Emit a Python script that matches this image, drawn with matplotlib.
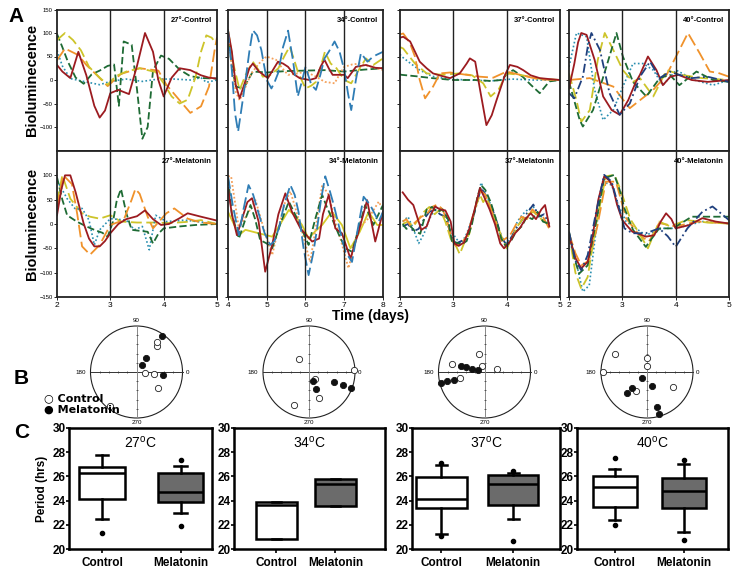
import numpy as np
import matplotlib.pyplot as plt
from matplotlib.patches import Circle

plt.rcParams['font.family'] = ['Liberation Sans', 'DejaVu Sans']

# ---------------- A: bioluminescence traces (days, a.u.) ----------------
# 27 C control
c27_red_x = [2.0, 2.1, 2.25, 2.4, 2.55, 2.7, 2.8, 2.9, 3.0, 3.15, 3.35, 3.5, 3.65, 3.8, 3.9, 4.0, 4.15, 4.3, 4.5, 4.7, 4.85, 5.0]
c27_red_y = [32, 18, 4, 60, 10, -55, -80, -65, -28, -21, -30, 30, 100, 60, 0, -35, 5, 25, 21, 10, 5, 3]
c27_green_x = [2.0, 2.1, 2.2, 2.35, 2.5, 2.65, 2.8, 2.95, 3.07, 3.16, 3.25, 3.4, 3.5, 3.6, 3.7, 3.8, 3.95, 4.1, 4.3, 4.5, 4.75, 5.0]
c27_green_y = [98, 70, 40, 5, -8, 12, 20, 30, 33, -55, 82, 75, -20, -125, -100, 20, 52, 45, 22, 8, 4, 3]
c27_yellow_x = [2.0, 2.15, 2.3, 2.45, 2.6, 2.8, 2.95, 3.1, 3.3, 3.55, 3.85, 4.0, 4.15, 4.3, 4.45, 4.6, 4.7, 4.8, 4.9, 5.0]
c27_yellow_y = [85, 100, 85, 63, 28, 5, -10, 8, 18, 25, 17, -7, -35, -50, -42, 7, 60, 95, 90, 75]
c27_orange_x = [2.0, 2.15, 2.4, 2.55, 2.75, 2.95, 3.2, 3.55, 3.9, 4.05, 4.2, 4.35, 4.5, 4.7, 4.85, 4.95, 5.0]
c27_orange_y = [42, 67, 53, 32, 10, -13, 13, 25, 20, -10, -30, -50, -70, -56, -14, 60, 91]
c27_teal_x = [2.0, 2.1, 2.25, 2.5, 2.8, 3.0, 3.3, 3.6, 3.9, 4.2, 4.5, 4.7, 4.8, 5.0]
c27_teal_y = [63, 30, 3, -3, -10, -3, 2, -3, 2, 2, 0, 5, -5, 0]

# 34 C control
c34_blue_x = [4.0, 4.1, 4.18, 4.26, 4.35, 4.43, 4.55, 4.64, 4.75, 4.86, 5.0, 5.12, 5.2, 5.29, 5.42, 5.55, 5.68, 5.8, 5.9, 6.0, 6.15, 6.27, 6.38, 6.49, 6.6, 6.75, 6.88, 7.0, 7.1, 7.18, 7.3, 7.43, 7.6, 7.72, 7.82, 8.0]
c34_blue_y = [106, 20, -70, -110, -60, -14, 60, 106, 95, 64, 0, -18, -5, 14, 70, 105, 40, -35, -5, 28, -10, -21, 10, 46, 60, 82, 60, 21, -30, -64, 0, 57, 39, 48, 53, 60]
c34_red_x = [4.0, 4.1, 4.2, 4.3, 4.43, 4.55, 4.64, 4.8, 5.03, 5.15, 5.29, 5.42, 5.55, 5.7, 5.85, 6.1, 6.27, 6.4, 6.49, 6.6, 6.7, 7.0, 7.09, 7.3, 7.56, 7.8, 8.0]
c34_red_y = [106, 60, -10, -39, -7, 25, 35, 18, 4, 20, 39, 35, 28, 12, 4, 0, 4, 30, 43, 25, 11, 11, 4, 28, 32, 26, 25]
c34_yellow_x = [4.0, 4.15, 4.3, 4.45, 4.64, 4.8, 4.9, 5.1, 5.3, 5.45, 5.59, 5.7, 5.8, 6.0, 6.15, 6.27, 6.4, 6.5, 6.65, 6.8, 7.0, 7.18, 7.35, 7.56, 7.75, 8.0]
c34_yellow_y = [106, 30, -21, 10, 39, 20, 7, 11, 25, 50, 71, 45, 18, -18, -12, -4, 30, 60, 35, 25, 0, -7, 18, 46, 32, 46]
c34_dotor_x = [4.0, 4.1, 4.2, 4.3, 4.45, 4.6, 4.8, 4.99, 5.24, 5.4, 5.55, 5.8, 6.0, 6.25, 6.5, 6.75, 6.9, 7.0, 7.2, 7.4, 7.7, 8.0]
c34_dotor_y = [85, 30, -25, -43, -15, 14, 35, 50, 43, 25, 11, 14, 18, 8, -4, -7, 15, 28, 33, 35, 28, 21]
c34_green_x = [4.0, 4.1, 4.2, 4.4, 4.64, 5.0, 5.5, 6.0, 6.5, 7.0, 7.5, 8.0]
c34_green_y = [99, 30, -14, -18, 18, 16, 19, 20, 21, 18, 22, 25]

# 37 C control
c37_red_x = [2.0, 2.06, 2.19, 2.37, 2.5, 2.62, 2.8, 2.94, 3.12, 3.25, 3.31, 3.41, 3.5, 3.62, 3.72, 3.81, 3.97, 4.06, 4.2, 4.31, 4.45, 4.62, 4.8, 5.0]
c37_red_y = [90, 92, 82, 39, 25, 14, 8, 4, 14, 35, 46, 39, -20, -96, -75, -43, 11, 32, 28, 21, 10, 4, 2, 0]
c37_orange_x = [2.0, 2.06, 2.18, 2.28, 2.37, 2.47, 2.62, 2.75, 2.94, 3.25, 3.5, 3.75, 4.0, 4.25, 4.62, 5.0]
c37_orange_y = [97, 99, 80, 50, 0, -39, -14, 14, 16, 11, 7, 5, 18, 11, 1, 0]
c37_yellow_x = [2.0, 2.06, 2.28, 2.5, 2.8, 3.1, 3.35, 3.56, 3.7, 3.85, 4.0, 4.25, 4.6, 5.0]
c37_yellow_y = [70, 67, 35, 14, 11, 14, 10, -7, -35, -20, 14, 11, 3, 0]
c37_teal_x = [2.0, 2.03, 2.2, 2.37, 2.6, 2.9, 3.3, 3.7, 4.1, 4.5, 5.0]
c37_teal_y = [55, 50, 35, 21, 8, 2, 0, -2, 2, 0, 0]
c37_green_x = [2.0, 2.03, 2.3, 2.6, 3.0, 3.4, 3.7, 3.9, 4.0, 4.12, 4.3, 4.45, 4.62, 4.8, 5.0]
c37_green_y = [12, 11, 8, 4, 0, 0, -2, 0, 12, 21, 7, -10, -28, -3, 0]

# 40 C control
c40_red_x = [2.0, 2.1, 2.17, 2.23, 2.33, 2.48, 2.64, 2.8, 2.95, 3.11, 3.25, 3.33, 3.48, 3.64, 3.76, 3.9, 4.05, 4.3, 4.6, 5.0]
c40_red_y = [-18, 35, 80, 100, 96, 43, -35, -64, -74, -43, -5, 11, 50, 21, -11, 7, 11, 0, -4, 0]
c40_navy_x = [2.0, 2.1, 2.26, 2.35, 2.42, 2.58, 2.76, 2.95, 3.14, 3.33, 3.52, 3.7, 3.89, 4.07, 4.3, 4.6, 5.0]
c40_navy_y = [-28, -39, 7, 70, 100, 64, -28, -74, -50, 7, 39, 4, 18, 11, 4, 7, -4]
c40_teal_x = [2.0, 2.14, 2.33, 2.48, 2.64, 2.83, 3.01, 3.2, 3.39, 3.58, 3.76, 4.01, 4.35, 4.7, 5.0]
c40_teal_y = [28, 100, 92, -21, -85, -64, -14, 35, 35, 21, -11, 21, 0, -11, 0]
c40_yellow_x = [2.0, 2.14, 2.23, 2.39, 2.54, 2.67, 2.83, 3.01, 3.2, 3.33, 3.58, 3.83, 4.1, 4.5, 5.0]
c40_yellow_y = [14, -43, -89, -64, 43, 100, 64, 21, -4, 4, -35, 21, 11, 4, 0]
c40_green_x = [2.0, 2.2, 2.26, 2.45, 2.7, 2.89, 3.01, 3.2, 3.45, 3.7, 3.89, 4.07, 4.39, 4.7, 5.0]
c40_green_y = [-4, -85, -99, -64, 28, 100, 50, -4, -35, 4, 11, -11, 18, 0, -4]
c40_orange_x = [2.0, 2.39, 2.83, 3.0, 3.14, 3.33, 3.58, 3.83, 4.07, 4.23, 4.45, 4.64, 4.8, 5.0]
c40_orange_y = [0, 4, -14, -40, -60, -43, -21, 11, 64, 100, 57, 18, 15, 7]

# 27 C melatonin
m27_red_x = [2.0, 2.08, 2.15, 2.25, 2.35, 2.5, 2.6, 2.7, 2.8, 2.9, 3.0, 3.15, 3.3, 3.5, 3.65, 3.8, 3.95, 4.1, 4.3, 4.45, 4.7, 5.0]
m27_red_y = [18, 70, 100, 100, 65, 1, -30, -46, -46, -35, -19, 0, 10, 16, 28, 10, -2, 0, 12, 22, 15, 7]
m27_orange_x = [2.0, 2.12, 2.28, 2.38, 2.47, 2.62, 2.8, 3.0, 3.25, 3.4, 3.47, 3.55, 3.7, 3.8, 4.05, 4.2, 4.45, 4.7, 5.0]
m27_orange_y = [35, 100, 82, 20, -46, -63, -43, -2, 8, 50, 72, 62, 15, -9, 22, 32, 11, 3, 0]
m27_yellow_x = [2.0, 2.1, 2.25, 2.47, 2.62, 2.8, 3.0, 3.2, 3.5, 3.8, 4.1, 4.4, 4.7, 5.0]
m27_yellow_y = [45, 100, 52, 22, 15, 11, 18, 5, 3, 3, 2, 4, 8, 0]
m27_green_x = [2.0, 2.1, 2.19, 2.37, 2.55, 2.7, 2.85, 2.95, 3.05, 3.12, 3.2, 3.3, 3.4, 3.55, 3.7, 3.8, 3.9, 4.0, 4.3, 4.6, 5.0]
m27_green_y = [96, 50, 18, 5, -5, -12, -18, -26, 5, 48, 72, 22, -12, -14, -16, -40, -20, -9, -5, -2, 0]
m27_teal_x = [2.0, 2.1, 2.19, 2.35, 2.47, 2.6, 2.7, 2.8, 3.0, 3.3, 3.45, 3.6, 3.73, 3.85, 4.05, 4.4, 5.0]
m27_teal_y = [89, 70, 52, 30, 32, 8, -43, -12, 11, 8, -12, -5, -53, 18, 5, 8, 0]

# 34 C melatonin
m34_blue_x = [4.0, 4.12, 4.28, 4.4, 4.53, 4.65, 4.79, 4.95, 5.09, 5.2, 5.31, 5.45, 5.61, 5.72, 5.82, 5.95, 6.08, 6.2, 6.3, 6.4, 6.51, 6.62, 6.73, 6.88, 7.03, 7.2, 7.35, 7.5, 7.67, 7.89, 8.0]
m34_blue_y = [98, 40, -23, 30, 80, 60, 22, -20, -43, -35, -9, 40, 80, 60, 25, -50, -105, -60, -9, 50, 98, 70, 39, -10, -57, -78, -10, 56, 39, 5, 25]
m34_red_x = [4.0, 4.1, 4.23, 4.4, 4.5, 4.62, 4.79, 4.96, 5.14, 5.3, 5.48, 5.65, 5.87, 6.17, 6.35, 6.45, 6.6, 6.77, 6.94, 7.16, 7.37, 7.59, 7.8, 8.0]
m34_red_y = [74, 20, -23, 20, 45, 53, 5, -98, -43, 20, 63, 25, -9, -36, -30, 20, 60, -9, -19, -71, -16, 49, -36, 25]
m34_dotor_x = [4.0, 4.08, 4.28, 4.49, 4.71, 4.92, 5.14, 5.3, 5.45, 5.61, 5.75, 5.91, 6.12, 6.28, 6.43, 6.6, 6.75, 6.9, 7.11, 7.37, 7.63, 7.89, 8.0]
m34_dotor_y = [98, 98, -9, 19, 49, -9, -64, -9, 40, 67, 30, -16, -78, 0, 80, 60, 10, -30, -91, -9, 12, 46, 29]
m34_green_x = [4.0, 4.1, 4.28, 4.45, 4.58, 4.7, 4.83, 5.0, 5.14, 5.35, 5.57, 5.7, 5.82, 6.08, 6.25, 6.43, 6.55, 6.68, 6.85, 7.03, 7.2, 7.37, 7.54, 7.75, 8.0]
m34_green_y = [94, 20, -30, 10, 39, 10, -33, -40, -50, 0, 46, 25, 5, -43, 10, 60, 35, 12, -20, -50, -57, -10, 39, -2, 39]
m34_yellow_x = [4.0, 4.15, 4.28, 4.45, 4.79, 5.14, 5.35, 5.57, 5.75, 5.91, 6.08, 6.25, 6.43, 6.68, 6.94, 7.16, 7.4, 7.63, 7.85, 8.0]
m34_yellow_y = [25, 0, -23, -12, -19, -26, 0, 29, 15, -2, -30, -15, -2, 25, -2, -50, -16, 25, -2, -2]

# 37 C melatonin
m37_red_x = [2.05, 2.15, 2.25, 2.32, 2.4, 2.5, 2.58, 2.66, 2.75, 2.85, 2.95, 3.02, 3.1, 3.2, 3.3, 3.4, 3.5, 3.58, 3.68, 3.78, 3.88, 3.95, 4.05, 4.15, 4.25, 4.35, 4.45, 4.55, 4.65, 4.72, 4.8]
m37_red_y = [65, 50, 39, 15, -12, -5, 20, 36, 30, 28, 5, -40, -45, -38, -10, 30, 74, 55, 30, 0, -40, -50, -38, -20, -8, 10, 22, 10, 30, 39, -5]
m37_green_x = [2.05, 2.12, 2.2, 2.28, 2.38, 2.5, 2.6, 2.7, 2.8, 2.9, 2.98, 3.05, 3.15, 3.25, 3.35, 3.45, 3.52, 3.6, 3.7, 3.8, 3.9, 3.98, 4.08, 4.18, 4.28, 4.38, 4.48, 4.58, 4.68, 4.8]
m37_green_y = [0, -10, -5, -15, -20, 30, 35, 25, 30, 10, -40, -38, -42, -35, 0, 55, 80, 70, 45, 10, -30, -45, -35, -15, -5, 15, 10, 25, 5, 0]
m37_orange_x = [2.05, 2.12, 2.2, 2.3, 2.4, 2.5, 2.6, 2.7, 2.8, 2.9, 2.98, 3.05, 3.15, 3.25, 3.35, 3.45, 3.52, 3.6, 3.7, 3.8, 3.9, 3.98, 4.08, 4.18, 4.28, 4.38, 4.48, 4.58, 4.68, 4.8]
m37_orange_y = [5, 10, -5, 5, 15, 20, 35, 40, 30, 0, -35, -45, -40, -25, 10, 50, 68, 60, 35, 0, -35, -30, -20, 0, 15, 10, 30, 20, 15, -10]
m37_yellow_x = [2.05, 2.15, 2.25, 2.35, 2.45, 2.55, 2.65, 2.75, 2.85, 2.95, 3.05, 3.12, 3.2, 3.3, 3.4, 3.5, 3.56, 3.62, 3.7, 3.8, 3.9, 4.0, 4.1, 4.2, 4.3, 4.4, 4.5, 4.6, 4.7, 4.8]
m37_yellow_y = [0, 5, -5, 10, 25, 35, 20, 30, 5, -30, -45, -62, -40, -20, 30, 60, 45, 55, 30, 5, -25, -50, -30, -5, 10, 20, 25, 15, 5, 0]
m37_teal_x = [2.05, 2.15, 2.25, 2.35, 2.45, 2.55, 2.65, 2.75, 2.85, 2.95, 3.05, 3.15, 3.25, 3.35, 3.45, 3.52, 3.6, 3.7, 3.8, 3.9, 4.0, 4.1, 4.2, 4.3, 4.4, 4.5, 4.6, 4.7, 4.8]
m37_teal_y = [5, 15, -10, -40, -20, 10, 30, 35, 20, -10, -30, -40, -20, 10, 50, 85, 65, 40, 5, -30, -40, -25, 5, 20, 30, 35, 20, 10, 5]
m37_navy_x = [2.05, 2.15, 2.25, 2.35, 2.45, 2.55, 2.65, 2.75, 2.85, 2.95, 3.05, 3.15, 3.25, 3.35, 3.45, 3.52, 3.6, 3.7, 3.8, 3.9, 4.0, 4.1, 4.2, 4.3, 4.4, 4.5, 4.6, 4.7, 4.8]
m37_navy_y = [-5, 0, -15, -10, 10, 25, 30, 20, 15, -20, -40, -35, -30, 5, 45, 75, 60, 40, 10, -25, -45, -25, -5, 10, 25, 40, 15, 20, 0]

# 40 C melatonin
m40_red_x = [2.0, 2.12, 2.23, 2.35, 2.45, 2.55, 2.66, 2.75, 2.82, 2.9, 3.0, 3.1, 3.19, 3.3, 3.44, 3.6, 3.72, 3.82, 3.92, 4.0, 4.26, 4.5, 4.75, 5.0]
m40_red_y = [-23, -70, -91, -78, -20, 50, 98, 90, 77, 40, 8, -5, -16, -20, -26, -23, 5, 22, 10, -9, -2, 12, 5, 1]
m40_navy_x = [2.0, 2.12, 2.23, 2.35, 2.5, 2.66, 2.8, 2.92, 3.04, 3.19, 3.44, 3.69, 3.85, 4.0, 4.22, 4.5, 4.69, 4.88, 5.0]
m40_navy_y = [-16, -75, -95, -64, 20, 101, 87, 40, -9, -19, -19, -9, -25, -47, -9, 25, 36, 19, 8]
m40_teal_x = [2.0, 2.16, 2.26, 2.38, 2.5, 2.63, 2.8, 2.92, 3.07, 3.44, 3.75, 4.0, 4.5, 5.0]
m40_teal_y = [-30, -91, -139, -126, -20, 87, 80, 40, 5, -23, -9, -9, 5, 1]
m40_yellow_x = [2.0, 2.12, 2.23, 2.35, 2.5, 2.69, 2.85, 2.95, 3.04, 3.15, 3.26, 3.48, 3.69, 3.9, 4.2, 4.6, 5.0]
m40_yellow_y = [-19, -100, -133, -109, -5, 98, 101, 75, 46, 10, -9, -50, 5, -5, 8, 3, 1]
m40_green_x = [2.0, 2.1, 2.19, 2.35, 2.5, 2.66, 2.85, 2.95, 3.04, 3.2, 3.44, 3.69, 3.95, 4.3, 4.6, 5.0]
m40_green_y = [-16, -70, -102, -85, 0, 94, 101, 70, 32, -12, -47, -9, -9, 15, 15, 15]
m40_orange_x = [2.0, 2.12, 2.23, 2.38, 2.53, 2.69, 2.88, 3.07, 3.32, 3.5, 3.69, 4.0, 4.4, 5.0]
m40_orange_y = [-19, -60, -85, -75, -5, 87, 87, 12, -23, -36, 2, -5, 5, 1]

# ---------------- B: phase (deg) and amplitude of each sample ----------------
b27_ctrl_ang = [52, 56, 354, 355, 324, 232]
b27_ctrl_r = [0.72, 0.78, 0.19, 0.38, 0.575, 0.95]
b27_mel_ang = [54, 56, 54, 354]
b27_mel_r = [0.96, 0.38, 0.19, 0.58]
b34_ctrl_ang = [128, 2, 312, 292, 245]
b34_ctrl_r = [0.36, 0.98, 0.21, 0.6, 0.78]
b34_mel_ang = [292, 292, 339, 339, 339]
b34_mel_r = [0.21, 0.41, 0.59, 0.79, 0.98]
b37_ctrl_ang = [106, 166, 111, 14, 194]
b37_ctrl_r = [0.4, 0.72, 0.14, 0.27, 0.55]
b37_mel_ang = [165, 166, 165, 163, 194, 194, 194]
b37_mel_r = [0.54, 0.41, 0.28, 0.15, 0.69, 0.83, 0.98]
b40_ctrl_ang = [151, 89, 90, 180, 330, 240]
b40_ctrl_r = [0.79, 0.3, 0.14, 0.96, 0.66, 0.47]
b40_mel_ang = [230, 289, 227, 226, 286, 286]
b40_mel_r = [0.16, 0.33, 0.48, 0.64, 0.8, 0.96]

# ---------------- C: period box plots (hrs) ----------------
temps = ['27', '34', '37', '40']
groups = ['Control', 'Melatonin']
# whisker low, q1, median, q3, whisker high
ctrl_stats = [[22.45, 24.15, 26.3, 26.75, 27.75],
              [20.8, 20.8, 23.65, 23.85, 23.85],
              [21.2, 23.35, 24.1, 25.95, 26.95],
              [22.4, 23.45, 25.15, 26.0, 26.6]]
mel_stats = [[22.95, 23.85, 24.75, 26.3, 26.85],
             [23.55, 23.55, 25.4, 25.8, 25.8],
             [22.5, 23.6, 25.4, 26.1, 26.3],
             [21.4, 23.35, 24.8, 25.85, 27.05]]
ctrl_fliers = [[21.35], [], [27.1, 21.1], [27.5, 21.95]]
mel_fliers = [[27.35, 21.9], [], [26.45, 20.65], [27.35, 20.75]]

# ---------------- drawing ----------------
W, H = 733, 568
fig = plt.figure(figsize=(W / 100, H / 100), dpi=100)


def px_axes(l, t, r, b):
    return fig.add_axes([l / W, 1 - b / H, (r - l) / W, (b - t) / H])


styles = {
    'red': dict(color='#9c1b20', ls='-', lw=1.3),
    'blue': dict(color='#2f7db5', ls=(0, (7, 2.5)), lw=1.3),
    'orange': dict(color='#f0922b', ls=(0, (7, 2.5)), lw=1.3),
    'yellow': dict(color='#cdc42a', ls=(0, (6, 2.5)), lw=1.3),
    'yellow_solid': dict(color='#d6cb2a', ls='-', lw=1.3),
    'green': dict(color='#1e6b34', ls=(0, (4, 1.8)), lw=1.3),
    'teal': dict(color='#2a8fb0', ls=(0, (1, 1.4)), lw=1.2),
    'navy': dict(color='#20407e', ls=(0, (5, 1.8, 1, 1.8)), lw=1.3),
    'dotor': dict(color='#f4a05a', ls=(0, (1, 1.2)), lw=1.3),
}

cols = [(57, 217), (228, 383), (400, 560), (569, 729)]
rows = [(9.5, 150.5), (151, 297)]

panels = [
    (0, 0, (2, 5), '27°-Control', [('teal', c27_teal_x, c27_teal_y), ('green', c27_green_x, c27_green_y),
                                   ('orange', c27_orange_x, c27_orange_y), ('yellow', c27_yellow_x, c27_yellow_y),
                                   ('red', c27_red_x, c27_red_y)]),
    (1, 0, (4, 8), '34°-Control', [('green', c34_green_x, c34_green_y), ('dotor', c34_dotor_x, c34_dotor_y),
                                   ('yellow', c34_yellow_x, c34_yellow_y), ('red', c34_red_x, c34_red_y),
                                   ('blue', c34_blue_x, c34_blue_y)]),
    (2, 0, (2, 5), '37°-Control', [('teal', c37_teal_x, c37_teal_y), ('green', c37_green_x, c37_green_y),
                                   ('yellow', c37_yellow_x, c37_yellow_y), ('orange', c37_orange_x, c37_orange_y),
                                   ('red', c37_red_x, c37_red_y)]),
    (3, 0, (2, 5), '40°-Control', [('orange', c40_orange_x, c40_orange_y), ('teal', c40_teal_x, c40_teal_y),
                                   ('yellow', c40_yellow_x, c40_yellow_y), ('green', c40_green_x, c40_green_y),
                                   ('red', c40_red_x, c40_red_y), ('navy', c40_navy_x, c40_navy_y)]),
    (0, 1, (2, 5), '27°-Melatonin', [('yellow', m27_yellow_x, m27_yellow_y), ('teal', m27_teal_x, m27_teal_y),
                                     ('green', m27_green_x, m27_green_y), ('orange', m27_orange_x, m27_orange_y),
                                     ('red', m27_red_x, m27_red_y)]),
    (1, 1, (4, 8), '34°-Melatonin', [('yellow_solid', m34_yellow_x, m34_yellow_y), ('dotor', m34_dotor_x, m34_dotor_y),
                                     ('green', m34_green_x, m34_green_y), ('red', m34_red_x, m34_red_y),
                                     ('blue', m34_blue_x, m34_blue_y)]),
    (2, 1, (2, 5), '37°-Melatonin', [('teal', m37_teal_x, m37_teal_y), ('navy', m37_navy_x, m37_navy_y),
                                     ('yellow', m37_yellow_x, m37_yellow_y), ('orange', m37_orange_x, m37_orange_y),
                                     ('green', m37_green_x, m37_green_y), ('red', m37_red_x, m37_red_y)]),
    (3, 1, (2, 5), '40°-Melatonin', [('teal', m40_teal_x, m40_teal_y), ('orange', m40_orange_x, m40_orange_y),
                                     ('yellow', m40_yellow_x, m40_yellow_y), ('green', m40_green_x, m40_green_y),
                                     ('red', m40_red_x, m40_red_y), ('navy', m40_navy_x, m40_navy_y)]),
]

for ci, ri, xl, title, traces in panels:
    l, r = cols[ci]
    t, b = rows[ri]
    ax = px_axes(l, t, r, b)
    for name, xs, ys in traces:
        ax.plot(xs, ys, solid_joinstyle='round', **styles[name])
    for d in range(xl[0] + 1, xl[1]):
        ax.axvline(d, color='#222222', lw=1.0)
    ax.set_xlim(*xl)
    ax.set_ylim(-150, 150)
    for s in ax.spines.values():
        s.set_color('#222222')
        s.set_linewidth(1.3)
    ax.text(0.97, 0.95, title, transform=ax.transAxes, ha='right', va='top',
            fontsize=5.5, fontweight='bold')
    if ri == 0:
        ax.set_yticks([150, 100, 50, 0, -50, -100])
    else:
        ax.set_yticks([100, 50, 0, -50, -100, -150])
    ax.tick_params(axis='y', length=2, width=0.6, labelsize=4.2, pad=1)
    if ci != 0:
        ax.set_yticklabels([])
    if ri == 1:
        ax.set_xticks(range(xl[0], xl[1] + 1))
        ax.tick_params(axis='x', length=2, width=0.6, labelsize=6, pad=1.5)
    else:
        ax.set_xticks([])

fig.text(32 / W, 1 - 80 / H, 'Bioluminecence', rotation=90, ha='center', va='center',
         fontsize=10.5, fontweight='bold')
fig.text(32 / W, 1 - 224 / H, 'Bioluminecence', rotation=90, ha='center', va='center',
         fontsize=10.5, fontweight='bold')
fig.text(370 / W, 1 - 316 / H, 'Time (days)', ha='center', va='center',
         fontsize=10, fontweight='bold')

# ---- B: phase circles ----
circ_cx = [136.5, 309, 484.5, 647]
circ_cy = 372
circ_r = 46
half = 60
b_data = [(b27_ctrl_ang, b27_ctrl_r, b27_mel_ang, b27_mel_r),
          (b34_ctrl_ang, b34_ctrl_r, b34_mel_ang, b34_mel_r),
          (b37_ctrl_ang, b37_ctrl_r, b37_mel_ang, b37_mel_r),
          (b40_ctrl_ang, b40_ctrl_r, b40_mel_ang, b40_mel_r)]
lim = half / circ_r
for cx, (ca, cr, ma, mr) in zip(circ_cx, b_data):
    ax = px_axes(cx - half, circ_cy - half, cx + half, circ_cy + half)
    ax.set_xlim(-lim, lim)
    ax.set_ylim(-lim, lim)
    ax.axis('off')
    ax.add_patch(Circle((0, 0), 1, fill=False, lw=0.8, color='#222222'))
    ax.plot([-1, 1], [0, 0], color='#333333', lw=0.7)
    ax.plot([0, 0], [-1, 1], color='#888888', lw=0.7)
    tk = [-0.8, -0.6, -0.4, -0.2, 0.2, 0.4, 0.6, 0.8]
    ax.plot(tk, [0] * len(tk), ls='none', marker='|', ms=2, mew=0.5, color='#333333')
    ax.plot([0] * len(tk), tk, ls='none', marker='_', ms=2, mew=0.5, color='#333333')
    ax.text(0, 1.06, '90', ha='center', va='bottom', fontsize=4.5)
    ax.text(0, -1.05, '270', ha='center', va='top', fontsize=4.5)
    ax.text(-1.1, 0, '180', ha='right', va='center', fontsize=4.5)
    ax.text(1.06, 0, '0', ha='left', va='center', fontsize=4.5)
    ca, cr, ma, mr = map(np.array, (ca, cr, ma, mr))
    ax.plot(cr * np.cos(np.radians(ca)), cr * np.sin(np.radians(ca)), ls='none', marker='o',
            ms=4.5, mfc='white', mec='#222222', mew=0.6, clip_on=False)
    ax.plot(mr * np.cos(np.radians(ma)), mr * np.sin(np.radians(ma)), ls='none', marker='o',
            ms=4.5, mfc='#111111', mec='#111111', mew=0.6, clip_on=False)

fig.text(44 / W, 1 - 398 / H, '○ Control', ha='left', va='center', fontsize=8, fontweight='bold',
         family=['DejaVu Sans'])
fig.text(44 / W, 1 - 410 / H, '● Melatonin', ha='left', va='center', fontsize=8, fontweight='bold',
         family=['DejaVu Sans'])

# ---- C: box plots ----
c_cols = [(69, 212), (234, 385), (412, 560), (577, 728)]
c_xlims = [(0.58, 2.40), (0.28, 2.84), (0.59, 2.65), (0.45, 2.64)]
c_widths = [0.58, 0.7, 0.7, 0.64]
for i, (l, r) in enumerate(c_cols):
    ax = px_axes(l, 428, r, 549)
    stats = []
    for g, st, fl in [(groups[0], ctrl_stats[i], ctrl_fliers[i]), (groups[1], mel_stats[i], mel_fliers[i])]:
        stats.append(dict(label=g, whislo=st[0], q1=st[1], med=st[2], q3=st[3], whishi=st[4], fliers=fl))
    bp = ax.bxp(stats, positions=[1, 2], widths=c_widths[i], patch_artist=True, showfliers=True,
                boxprops=dict(lw=1.8, edgecolor='black'),
                medianprops=dict(color='black', lw=1.8),
                whiskerprops=dict(color='black', lw=1.8),
                capprops=dict(color='black', lw=1.8),
                flierprops=dict(marker='o', ms=3, mfc='black', mec='black'))
    bp['boxes'][0].set_facecolor('white')
    bp['boxes'][1].set_facecolor('#6b6b6b')
    for cap in bp['caps']:
        xd = cap.get_xdata()
        mid = (xd[0] + xd[1]) / 2
        cap.set_xdata([mid - 0.08, mid + 0.08])
    ax.set_xlim(*c_xlims[i])
    ax.set_ylim(20, 30)
    ax.set_yticks([20, 22, 24, 26, 28, 30])
    ax.set_xticks([1, 2])
    ax.set_xticklabels(groups, fontweight='bold', fontsize=8.5)
    for lab in ax.get_yticklabels():
        lab.set_fontweight('bold')
    ax.tick_params(axis='y', labelsize=8.5, length=2, width=1.2, pad=0.5)
    ax.tick_params(axis='x', length=3, width=1.2, pad=3)
    for s in ax.spines.values():
        s.set_linewidth(1.8)
    ax.text(0.5, 0.88, temps[i] + r'$^\mathregular{o}$C', transform=ax.transAxes, ha='center',
            va='center', fontsize=10)
    if i == 0:
        ax.set_ylabel('Period (hrs)', fontsize=8.5, fontweight='bold', labelpad=3)

fig.text(8 / W, 1 - 17 / H, 'A', fontsize=15, fontweight='bold', va='center')
fig.text(14 / W, 1 - 378 / H, 'B', fontsize=15, fontweight='bold', va='center')
fig.text(14 / W, 1 - 433 / H, 'C', fontsize=15, fontweight='bold', va='center')

fig.savefig('out.png', dpi=100)
